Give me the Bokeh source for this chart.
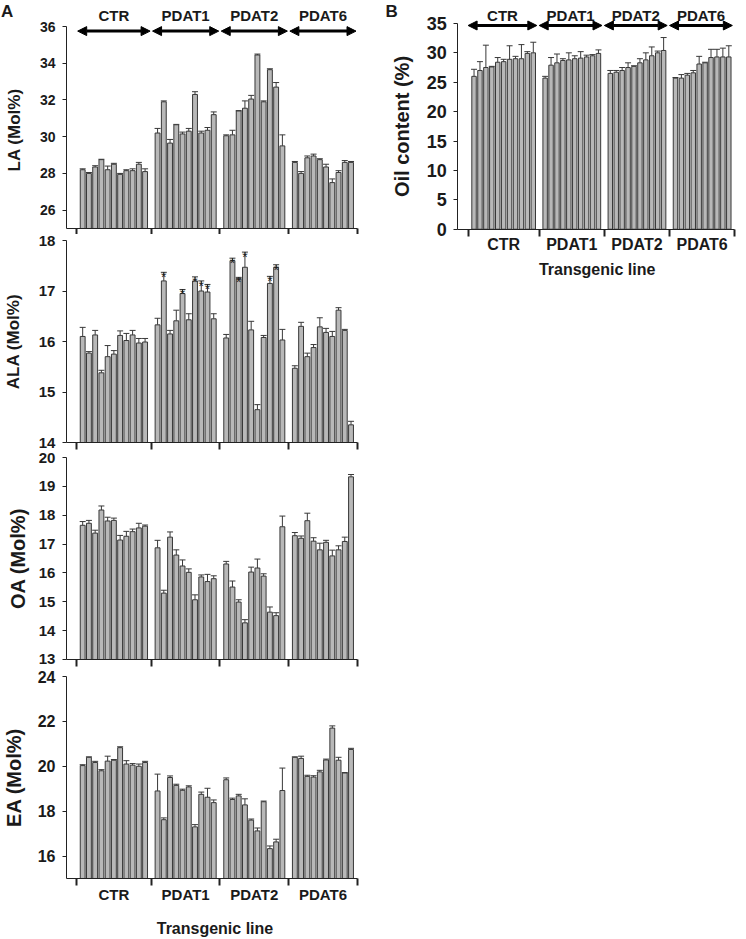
from bokeh.plotting import figure
from bokeh.models import (ColumnDataSource, Range1d, FixedTicker, Whisker, TeeHead,
                          Arrow, NormalHead)
from bokeh.layouts import row, column
from bokeh.embed import file_html
from bokeh.resources import INLINE
from bokeh.core.properties import value

# ---------------- data ----------------
groups = ["CTR", "PDAT1", "PDAT2", "PDAT6"]
group_sizes = [11, 10, 10, 10]
x_title = "Transgenic line"

la_mean = [28.2, 28.0, 28.35, 28.75, 28.2, 28.5, 27.95, 28.15, 28.15, 28.5, 28.1,
           30.2, 31.9, 29.65, 30.65, 30.15, 30.3, 32.3, 30.2, 30.35, 31.2,
           30.05, 30.1, 31.4, 31.55, 32.05, 34.45, 31.9, 33.65, 32.7, 29.5,
           28.6, 28.0, 28.85, 28.95, 28.75, 28.35, 27.5, 28.05, 28.6, 28.6]
la_sd = [0.05, 0.05, 0.07, 0.02, 0.2, 0.05, 0.05, 0.05, 0.1, 0.1, 0.15,
         0.25, 0.05, 0.2, 0.02, 0.1, 0.15, 0.15, 0.1, 0.15, 0.15,
         0.05, 0.25, 0.02, 0.4, 0.2, 0.05, 0.05, 0.05, 0.25, 0.6,
         0.05, 0.1, 0.1, 0.1, 0.05, 0.15, 0.2, 0.1, 0.1, 0.05]

ala_mean = [16.1, 15.77, 16.13, 15.38, 15.7, 15.75, 16.12, 16.02, 16.13, 15.97, 15.99,
            16.33, 17.2, 16.15, 16.41, 16.95, 16.43, 17.2, 17.0, 16.98, 16.45,
            16.07, 17.6, 17.25, 17.47, 16.23, 14.65, 16.08, 17.15, 17.47, 16.03,
            15.47, 16.3, 15.7, 15.88, 16.29, 16.18, 16.1, 16.62, 16.22, 14.35]
ala_sd = [0.18, 0.03, 0.09, 0.05, 0.22, 0.07, 0.09, 0.14, 0.09, 0.09, 0.07,
          0.13, 0.17, 0.07, 0.21, 0.08, 0.12, 0.08, 0.2, 0.15, 0.1,
          0.07, 0.05, 0.02, 0.3, 0.17, 0.1, 0.04, 0.14, 0.05, 0.21,
          0.05, 0.08, 0.07, 0.06, 0.18, 0.08, 0.1, 0.05, 0.02, 0.07]
ala_sig = ["", "", "", "", "", "", "", "", "", "", "",
           "", "*", "", "", "*", "", "*", "*", "*", "",
           "", "*", "*", "*", "", "", "", "*", "*", "",
           "", "", "", "", "", "", "", "", "", ""]

oa_mean = [17.65, 17.72, 17.38, 18.18, 17.8, 17.82, 17.14, 17.27, 17.43, 17.56, 17.62,
           16.87, 15.3, 17.24, 16.62, 16.24, 16.02, 15.07, 15.86, 15.7, 15.8,
           16.31, 15.51, 14.99, 14.27, 16.03, 16.17, 15.89, 14.64, 14.52, 17.6,
           17.29, 17.2, 17.81, 17.1, 16.8, 17.06, 16.59, 16.8, 17.09, 19.33]
oa_sd = [0.13, 0.1, 0.1, 0.14, 0.13, 0.08, 0.16, 0.17, 0.09, 0.16, 0.04,
         0.26, 0.1, 0.18, 0.18, 0.21, 0.12, 0.17, 0.07, 0.25, 0.1,
         0.09, 0.21, 0.08, 0.11, 0.17, 0.31, 0.08, 0.18, 0.1, 0.37,
         0.11, 0.08, 0.26, 0.12, 0.23, 0.07, 0.2, 0.14, 0.15, 0.08]

ea_mean = [20.03, 20.4, 20.17, 19.8, 20.23, 20.27, 20.83, 20.1, 20.05, 20.0, 20.17,
           18.9, 17.62, 19.5, 19.15, 18.93, 19.08, 17.3, 18.75, 18.62, 18.38,
           19.4, 18.52, 18.68, 18.28, 17.6, 17.12, 18.42, 16.33, 16.63, 18.92,
           20.4, 20.35, 19.55, 19.52, 19.75, 20.28, 21.7, 20.27, 19.7, 20.75]
ea_sd = [0.04, 0.02, 0.05, 0.05, 0.22, 0.03, 0.04, 0.15, 0.07, 0.1, 0.05,
         0.75, 0.08, 0.07, 0.05, 0.05, 0.05, 0.1, 0.1, 0.4, 0.12,
         0.08, 0.06, 0.07, 0.27, 0.05, 0.13, 0.03, 0.12, 0.12, 1.0,
         0.02, 0.1, 0.05, 0.06, 0.07, 0.04, 0.1, 0.13, 0.02, 0.05]

oil_mean = [26.0, 27.0, 27.5, 27.6, 28.4, 28.5, 28.9, 29.0, 29.0, 29.9, 30.0,
            25.7, 27.9, 28.3, 28.7, 28.8, 29.0, 29.1, 29.3, 29.5, 29.9,
            26.5, 26.7, 27.0, 27.5, 27.7, 28.3, 28.8, 29.5, 30.0, 30.4,
            25.7, 25.7, 26.2, 26.6, 28.1, 28.3, 29.2, 29.3, 29.3, 29.3]
oil_sd = [1.2, 1.5, 3.8, 0.1, 0.8, 0.4, 2.3, 0.4, 2.4, 0.3, 1.8,
          0.3, 1.3, 1.5, 0.3, 1.2, 0.5, 1.1, 0.3, 0.2, 0.6,
          0.5, 0.3, 0.5, 0.8, 0.1, 0.7, 1.2, 1.5, 0.3, 2.2,
          0.1, 0.6, 0.3, 0.4, 1.3, 0.1, 1.4, 1.3, 1.5, 1.9]

# ---------------- positions from group sizes ----------------
xs, starts, ends = [], [], []
pos = 0
for n in group_sizes:
    starts.append(pos)
    xs += list(range(pos, pos + n))
    ends.append(pos + n - 1)
    pos += n + 1
bounds_ticks = [starts[0] - 1] + [e + 1 for e in ends]
centers = [(s + e) / 2 for s, e in zip(starts, ends)]

FONT = "Liberation Sans"
TXT = "#1a1a1a"
AX = "#222222"
BAR_FILL = "#b8b8b8"
BAR_LINE = "#383838"


def bar_panel(mean, sd, yr, base, ybounds, yticks, ylabel, ylab_size, ylab_standoff, ytick_size,
              xr, yloc, frame_w, frame_h, mb_right, bar_w,
              letter=None, letter_x=None, tick_out=7,
              xlabels=False, xlab_size="15px", xlab_standoff=0):
    # the frame covers the whole canvas; both axes sit at fixed data locations
    p = figure(frame_width=frame_w, frame_height=frame_h,
               min_border_left=0, min_border_right=mb_right,
               min_border_top=0, min_border_bottom=0,
               x_range=Range1d(*xr), y_range=Range1d(*yr),
               output_backend="svg", toolbar_location=None, title=None)
    p.outline_line_color = None
    p.grid.visible = False
    p.background_fill_color = "white"

    p.vbar(x=xs, top=mean, bottom=base, width=bar_w, fill_color=BAR_FILL,
           line_color=BAR_LINE, line_width=1)

    src = ColumnDataSource(dict(x=xs, lo=mean, hi=[m + s for m, s in zip(mean, sd)]))
    p.add_layout(Whisker(source=src, base="x", lower="lo", upper="hi", dimension="height",
                         line_color=BAR_LINE, line_width=1, lower_head=None,
                         upper_head=TeeHead(size=6, line_color=BAR_LINE, line_width=1)))

    if letter is not None:
        p.text(x=[letter_x], y=[yr[1]], text=[letter], text_font=value(FONT),
               text_font_size="17px", text_font_style="bold", text_color=TXT,
               text_align="left", text_baseline="top", y_offset=1)

    yax = p.yaxis[0]
    yax.fixed_location = yloc
    yax.ticker = FixedTicker(ticks=yticks)
    yax.bounds = ybounds
    yax.axis_line_color = AX
    yax.major_tick_line_color = AX
    yax.major_tick_in = 0
    yax.major_tick_out = 4
    yax.minor_tick_line_color = None
    yax.major_label_text_font = FONT
    yax.major_label_text_font_size = ytick_size
    yax.major_label_text_font_style = "bold"
    yax.major_label_text_color = TXT
    yax.major_label_standoff = 7
    yax.axis_label = ylabel
    yax.axis_label_text_font = FONT
    yax.axis_label_text_font_size = ylab_size
    yax.axis_label_text_font_style = "bold"
    yax.axis_label_text_color = TXT
    yax.axis_label_standoff = ylab_standoff

    xax = p.xaxis[0]
    xax.fixed_location = base
    xax.bounds = (yloc, bounds_ticks[-1])
    xax.axis_line_color = AX
    xax.major_tick_in = 0
    xax.major_tick_out = 0
    xax.minor_tick_in = 0
    xax.minor_tick_out = tick_out
    xax.minor_tick_line_width = 2
    xax.minor_tick_line_color = AX
    if xlabels:
        xax.ticker = FixedTicker(ticks=centers, minor_ticks=bounds_ticks)
        xax.major_label_overrides = {c: g for c, g in zip(centers, groups)}
        xax.major_label_text_font = FONT
        xax.major_label_text_font_size = xlab_size
        xax.major_label_text_font_style = "bold"
        xax.major_label_text_color = TXT
        xax.major_label_standoff = xlab_standoff
    else:
        xax.ticker = FixedTicker(ticks=[], minor_ticks=bounds_ticks)
        xax.major_label_text_font_size = "0px"
        xax.major_label_standoff = 0
    return p


def add_group_arrows(p, y_arrow, y_text, pad_l, pad_r, size="15px"):
    x0 = [s - pad_l for s in starts]
    x1 = [e + pad_r for e in ends]
    mids = [(a + b) / 2 for a, b in zip(x0, x1)]
    p.text(x=mids, y=[y_text] * len(groups), text=groups, text_font=value(FONT),
           text_font_size=size, text_font_style="bold", text_color=TXT,
           text_align="center", text_baseline="middle")
    src = ColumnDataSource(dict(x0=x0, x1=x1, y=[y_arrow] * len(groups)))
    p.add_layout(Arrow(source=src, x_start="x0", x_end="x1", y_start="y", y_end="y",
                       line_width=3, line_color="black",
                       start=NormalHead(size=9, fill_color="black", line_color="black"),
                       end=NormalHead(size=9, fill_color="black", line_color="black")))


def add_x_title(p, x, y, size):
    p.text(x=[x], y=[y], text=[x_title], text_font=value(FONT), text_font_size=size,
           text_font_style="bold", text_color=TXT, text_align="center",
           text_baseline="middle")


# ---------------- panel A ----------------
A_YLOC = -2.6
A_XEND = 45.0
A_XR = (-13.17, A_XEND)

p_la = bar_panel(la_mean, la_sd, (24.673, 37.418), 25, (25, 36), [26, 28, 30, 32, 34, 36],
                 "LA  (Mol%)", "17px", 13, "14px",
                 A_XR, A_YLOC, 363, 234, 3, 0.78,
                 letter="A", letter_x=-13.1, tick_out=6)
add_group_arrows(p_la, 35.75, 36.6, 0.8, 0.8)

p_ala = bar_panel(ala_mean, ala_sd, (13.822, 18.119), 14, (14, 18), [14, 15, 16, 17, 18],
                  "ALA (Mol%)", "17px", 13, "15px",
                  A_XR, A_YLOC, 363, 217, 3, 0.78)
ala_hi = [m + s for m, s in zip(ala_mean, ala_sd)]
p_ala.text(x=xs, y=ala_hi, text=ala_sig, text_font=value(FONT), text_font_size="14px",
           text_color=TXT, text_align="center", text_baseline="alphabetic", y_offset=5)

p_oa = bar_panel(oa_mean, oa_sd, (12.653, 20.208), 13, (13, 20),
                 [13, 14, 15, 16, 17, 18, 19, 20],
                 "OA (Mol%)", "20px", 7, "15px",
                 A_XR, A_YLOC, 363, 218, 3, 0.78)

p_ea = bar_panel(ea_mean, ea_sd, (12.282, 24.312), 15, (15, 24), [16, 18, 20, 22, 24],
                 "EA (Mol%)", "20px", 10, "16px",
                 A_XR, A_YLOC, 363, 270, 3, 0.78,
                 xlabels=True, xlab_size="15px", xlab_standoff=1)
add_x_title(p_ea, (A_YLOC + A_XEND) / 2, 12.77, "16px")

# ---------------- panel B ----------------
B_YLOC = -2.75
B_XEND = 44.3
p_oil = bar_panel(oil_mean, oil_sd, (-9.4, 38.9), 0, (0, 35),
                  [0, 5, 10, 15, 20, 25, 30, 35],
                  "Oil content (%)", "20px", 10, "18px",
                  (-18.15, B_XEND), B_YLOC, 370, 284, 10, 0.75,
                  letter="B", letter_x=-14.95,
                  xlabels=True, xlab_size="16px", xlab_standoff=0)
add_group_arrows(p_oil, 34.65, 36.35, 1.0, 0.6)
add_x_title(p_oil, (B_YLOC + B_XEND) / 2, -6.8, "16px")

layout = row(column(p_la, p_ala, p_oa, p_ea), p_oil)
open("out.html", "w").write(file_html(layout, INLINE))
